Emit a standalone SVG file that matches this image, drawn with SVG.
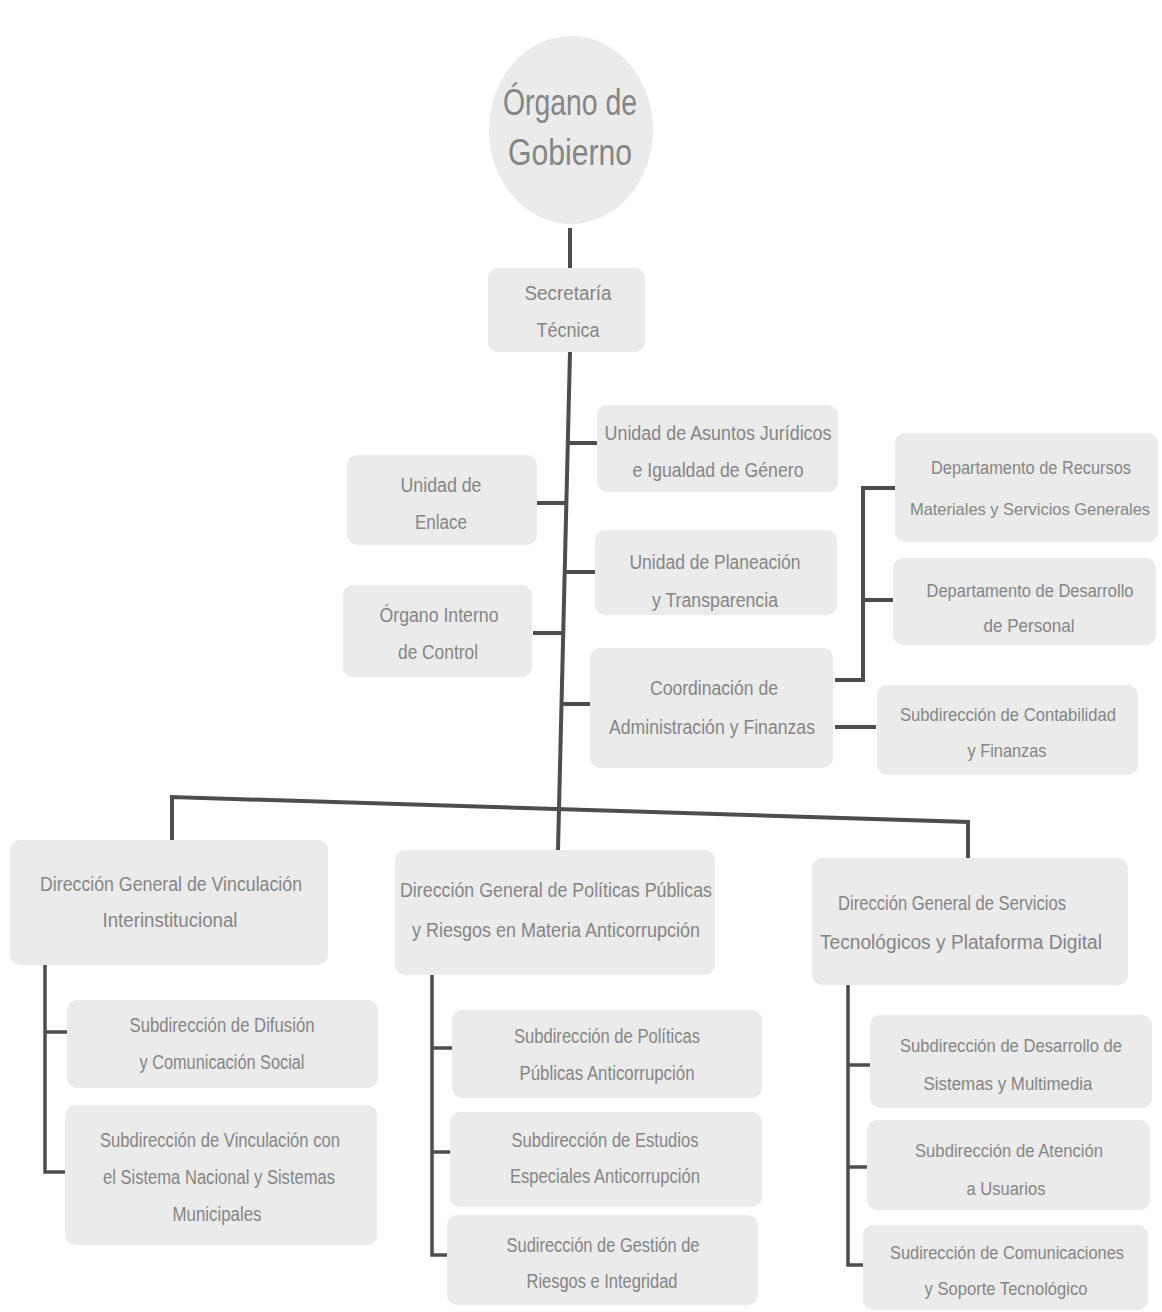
<svg xmlns="http://www.w3.org/2000/svg" width="1162" height="1312" viewBox="0 0 1162 1312">
<style>
.bg{fill:#ffffff}
.box{fill:#ebebeb}
.t{font-family:"Liberation Sans",Arial,sans-serif;font-size:20px;fill:#858585;text-anchor:middle}
.s{font-size:18px}
.xs{font-size:17px}
.big{font-size:36px}
.ln{stroke:#4d4d4d;stroke-width:4;fill:none;stroke-linecap:butt}
.ln3{stroke:#4d4d4d;stroke-width:3.5;fill:none}
</style>
<rect class="bg" x="0" y="0" width="1162" height="1312"/>
<g id="connectors">
<line class="ln" x1="570" y1="228" x2="570" y2="268"/>
<line class="ln" x1="570" y1="352" x2="558" y2="850"/>
<line class="ln" x1="568" y1="443" x2="598" y2="443"/>
<line class="ln" x1="535" y1="503" x2="567" y2="503"/>
<line class="ln" x1="565" y1="572" x2="595" y2="572"/>
<line class="ln" x1="533" y1="633" x2="563" y2="633"/>
<line class="ln" x1="562" y1="704" x2="591" y2="704"/>
<polyline class="ln" points="895,488 863,488 863,680 835,680"/>
<line class="ln" x1="863" y1="600" x2="895" y2="600"/>
<line class="ln" x1="835" y1="727" x2="876" y2="727"/>
<polyline class="ln" points="172,840 172,797 968,822 968,860"/>
<polyline class="ln3" points="45,965 45,1172 68,1172"/>
<line class="ln3" x1="45" y1="1032" x2="68" y2="1032"/>
<polyline class="ln3" points="432,975 432,1255 455,1255"/>
<line class="ln3" x1="432" y1="1048" x2="455" y2="1048"/>
<line class="ln3" x1="432" y1="1152" x2="452" y2="1152"/>
<polyline class="ln3" points="848,985 848,1265 866,1265"/>
<line class="ln3" x1="848" y1="1065" x2="871" y2="1065"/>
<line class="ln3" x1="848" y1="1167" x2="868" y2="1167"/>
</g>
<g id="organo-gobierno">
<ellipse class="box" cx="571" cy="130" rx="82" ry="94"/>
<text class="t big" x="570" y="115" textLength="134" lengthAdjust="spacingAndGlyphs">Órgano de</text>
<text class="t big" x="570" y="165" textLength="124" lengthAdjust="spacingAndGlyphs">Gobierno</text>
</g>
<g id="secretaria-tecnica">
<rect class="box" x="488" y="268" width="157" height="84" rx="10"/>
<text class="t" x="568" y="300" textLength="87" lengthAdjust="spacingAndGlyphs">Secretaría</text>
<text class="t" x="568" y="337" textLength="63" lengthAdjust="spacingAndGlyphs">Técnica</text>
</g>
<g id="unidad-asuntos-juridicos">
<rect class="box" x="597" y="405" width="241" height="87" rx="10"/>
<text class="t" x="718" y="440" textLength="227" lengthAdjust="spacingAndGlyphs">Unidad de Asuntos Jurídicos</text>
<text class="t" x="718" y="477" textLength="171" lengthAdjust="spacingAndGlyphs">e Igualdad de Género</text>
</g>
<g id="unidad-enlace">
<rect class="box" x="347" y="455" width="190" height="90" rx="10"/>
<text class="t" x="441" y="492" textLength="81" lengthAdjust="spacingAndGlyphs">Unidad de</text>
<text class="t" x="441" y="529" textLength="52" lengthAdjust="spacingAndGlyphs">Enlace</text>
</g>
<g id="unidad-planeacion">
<rect class="box" x="595" y="530" width="242" height="85" rx="10"/>
<text class="t" x="715" y="569" textLength="171" lengthAdjust="spacingAndGlyphs">Unidad de Planeación</text>
<text class="t" x="715" y="607" textLength="126" lengthAdjust="spacingAndGlyphs">y Transparencia</text>
</g>
<g id="organo-interno-control">
<rect class="box" x="343" y="585" width="189" height="92" rx="10"/>
<text class="t" x="439" y="622" textLength="119" lengthAdjust="spacingAndGlyphs">Órgano Interno</text>
<text class="t" x="438" y="659" textLength="80" lengthAdjust="spacingAndGlyphs">de Control</text>
</g>
<g id="coordinacion-administracion">
<rect class="box" x="590" y="648" width="243" height="120" rx="10"/>
<text class="t" x="714" y="695" textLength="128" lengthAdjust="spacingAndGlyphs">Coordinación de</text>
<text class="t" x="712" y="734" textLength="206" lengthAdjust="spacingAndGlyphs">Administración y Finanzas</text>
</g>
<g id="depto-recursos-materiales">
<rect class="box" x="895" y="433" width="263" height="109" rx="10"/>
<text class="t s" x="1031" y="474" textLength="200" lengthAdjust="spacingAndGlyphs">Departamento de Recursos</text>
<text class="t xs" x="1030" y="515" textLength="240" lengthAdjust="spacingAndGlyphs">Materiales y Servicios Generales</text>
</g>
<g id="depto-desarrollo-personal">
<rect class="box" x="893" y="558" width="263" height="87" rx="10"/>
<text class="t s" x="1030" y="597" textLength="207" lengthAdjust="spacingAndGlyphs">Departamento de Desarrollo</text>
<text class="t s" x="1029" y="632" textLength="91" lengthAdjust="spacingAndGlyphs">de Personal</text>
</g>
<g id="sub-contabilidad">
<rect class="box" x="877" y="685" width="261" height="90" rx="10"/>
<text class="t s" x="1008" y="721" textLength="216" lengthAdjust="spacingAndGlyphs">Subdirección de Contabilidad</text>
<text class="t s" x="1007" y="757" textLength="79" lengthAdjust="spacingAndGlyphs">y Finanzas</text>
</g>
<g id="dg-vinculacion">
<rect class="box" x="10" y="840" width="318" height="125" rx="10"/>
<text class="t" x="171" y="891" textLength="262" lengthAdjust="spacingAndGlyphs">Dirección General de Vinculación</text>
<text class="t" x="170" y="927" textLength="135" lengthAdjust="spacingAndGlyphs">Interinstitucional</text>
</g>
<g id="dg-politicas">
<rect class="box" x="395" y="850" width="320" height="125" rx="10"/>
<text class="t" x="556" y="897" textLength="312" lengthAdjust="spacingAndGlyphs">Dirección General de Políticas Públicas</text>
<text class="t" x="556" y="937" textLength="288" lengthAdjust="spacingAndGlyphs">y Riesgos en Materia Anticorrupción</text>
</g>
<g id="dg-servicios">
<rect class="box" x="812" y="858" width="316" height="127" rx="10"/>
<text class="t" x="952" y="910" textLength="228" lengthAdjust="spacingAndGlyphs">Dirección General de Servicios</text>
<text class="t" x="961" y="949" textLength="282" lengthAdjust="spacingAndGlyphs">Tecnológicos y Plataforma Digital</text>
</g>
<g id="sub-difusion">
<rect class="box" x="67" y="1000" width="311" height="88" rx="10"/>
<text class="t" x="222" y="1032" textLength="185" lengthAdjust="spacingAndGlyphs">Subdirección de Difusión</text>
<text class="t" x="222" y="1069" textLength="165" lengthAdjust="spacingAndGlyphs">y Comunicación Social</text>
</g>
<g id="sub-vinculacion-sistema">
<rect class="box" x="65" y="1105" width="312" height="140" rx="10"/>
<text class="t" x="220" y="1147" textLength="240" lengthAdjust="spacingAndGlyphs">Subdirección de Vinculación con</text>
<text class="t" x="219" y="1184" textLength="232" lengthAdjust="spacingAndGlyphs">el Sistema Nacional y Sistemas</text>
<text class="t" x="217" y="1221" textLength="89" lengthAdjust="spacingAndGlyphs">Municipales</text>
</g>
<g id="sub-politicas">
<rect class="box" x="452" y="1010" width="310" height="88" rx="10"/>
<text class="t" x="607" y="1043" textLength="186" lengthAdjust="spacingAndGlyphs">Subdirección de Políticas</text>
<text class="t" x="607" y="1080" textLength="175" lengthAdjust="spacingAndGlyphs">Públicas Anticorrupción</text>
</g>
<g id="sub-estudios">
<rect class="box" x="450" y="1112" width="312" height="95" rx="10"/>
<text class="t" x="605" y="1147" textLength="187" lengthAdjust="spacingAndGlyphs">Subdirección de Estudios</text>
<text class="t" x="605" y="1183" textLength="190" lengthAdjust="spacingAndGlyphs">Especiales Anticorrupción</text>
</g>
<g id="sub-gestion-riesgos">
<rect class="box" x="447" y="1215" width="311" height="90" rx="10"/>
<text class="t" x="603" y="1252" textLength="193" lengthAdjust="spacingAndGlyphs">Sudirección de Gestión de</text>
<text class="t" x="602" y="1288" textLength="151" lengthAdjust="spacingAndGlyphs">Riesgos e Integridad</text>
</g>
<g id="sub-desarrollo-sistemas">
<rect class="box" x="870" y="1015" width="282" height="93" rx="10"/>
<text class="t s" x="1011" y="1052" textLength="222" lengthAdjust="spacingAndGlyphs">Subdirección de Desarrollo de</text>
<text class="t s" x="1008" y="1090" textLength="169" lengthAdjust="spacingAndGlyphs">Sistemas y Multimedia</text>
</g>
<g id="sub-atencion-usuarios">
<rect class="box" x="867" y="1120" width="283" height="90" rx="10"/>
<text class="t s" x="1009" y="1157" textLength="188" lengthAdjust="spacingAndGlyphs">Subdirección de Atención</text>
<text class="t s" x="1006" y="1195" textLength="79" lengthAdjust="spacingAndGlyphs">a Usuarios</text>
</g>
<g id="sub-comunicaciones">
<rect class="box" x="863" y="1225" width="285" height="85" rx="10"/>
<text class="t s" x="1007" y="1259" textLength="234" lengthAdjust="spacingAndGlyphs">Sudirección de Comunicaciones</text>
<text class="t s" x="1006" y="1295" textLength="163" lengthAdjust="spacingAndGlyphs">y Soporte Tecnológico</text>
</g>
</svg>
